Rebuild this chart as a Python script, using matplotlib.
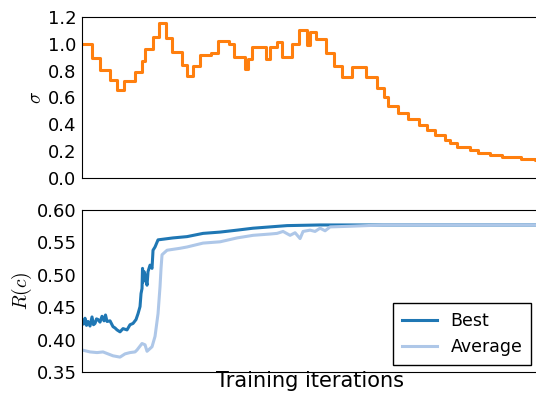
import matplotlib
matplotlib.use("Agg")
import matplotlib.pyplot as plt

plt.rcParams["mathtext.fontset"] = "cm"

# sigma schedule (step changes): iteration where the step starts, value
sigma_iter = [0, 10, 18, 28, 35, 42, 53, 60, 63, 71, 77, 84, 90, 100, 105, 111,
              118, 129, 136, 147, 152, 163, 166, 170, 184, 188, 195, 200, 210,
              217, 225, 228, 234, 244, 252, 260, 270, 284, 295, 302, 306, 316,
              326, 337, 345, 353, 363, 368, 375, 388, 396, 408, 420, 439, 453, 456]
sigma_val = [1.00, 0.895, 0.805, 0.728, 0.654, 0.72, 0.79, 0.87, 0.96, 1.053,
             1.157, 1.04, 0.937, 0.845, 0.758, 0.835, 0.92, 0.935, 1.023, 1.0,
             0.905, 0.81, 0.89, 0.98, 0.885, 0.975, 1.01, 0.905, 1.0, 1.10, 0.99,
             1.085, 1.035, 0.935, 0.835, 0.755, 0.825, 0.75, 0.67, 0.60, 0.54,
             0.487, 0.44, 0.395, 0.358, 0.32, 0.283, 0.258, 0.233, 0.209, 0.189,
             0.171, 0.159, 0.139, 0.135, 0.135]

# best reward
best_iter = [0, 1.5, 3, 4.5, 6, 8, 10, 11.5, 13, 14.5, 16, 18, 20, 22, 23.5, 25,
             28, 31, 33, 35, 38, 41, 45, 48, 51, 54, 56, 58, 59, 60, 60.5, 61,
             62, 63, 64, 65, 66, 68, 70, 71, 73, 76, 81, 91, 105, 121, 138, 155,
             171, 188, 205, 238, 456]
best_val = [0.430, 0.424, 0.433, 0.422, 0.428, 0.421, 0.435, 0.423, 0.425, 0.432,
            0.431, 0.427, 0.436, 0.429, 0.438, 0.428, 0.429, 0.420, 0.418, 0.415,
            0.412, 0.417, 0.415, 0.423, 0.425, 0.431, 0.440, 0.451, 0.471, 0.479,
            0.510, 0.489, 0.505, 0.500, 0.492, 0.484, 0.505, 0.515, 0.510, 0.538,
            0.543, 0.554, 0.555, 0.557, 0.559, 0.564, 0.566, 0.569, 0.572, 0.574,
            0.576, 0.577, 0.577]

# average reward
avg_iter = [0, 8, 15, 21, 26, 31, 38, 43, 48, 53, 55, 60, 63, 65, 70, 73, 76, 78,
            79, 80, 85, 98, 105, 121, 138, 155, 171, 188, 195, 201, 208, 213, 218,
            221, 228, 233, 238, 243, 248, 268, 301, 456]
avg_val = [0.384, 0.381, 0.380, 0.381, 0.378, 0.375, 0.373, 0.378, 0.380, 0.381,
           0.384, 0.394, 0.392, 0.382, 0.389, 0.405, 0.440, 0.482, 0.510, 0.531,
           0.538, 0.541, 0.543, 0.549, 0.551, 0.557, 0.561, 0.563, 0.564, 0.567,
           0.561, 0.565, 0.556, 0.567, 0.569, 0.567, 0.572, 0.568, 0.574, 0.575,
           0.577, 0.577]

fig = plt.figure(figsize=(5.36, 3.95), dpi=100)
ax1 = fig.add_axes([0.153, 0.5494, 0.851, 0.4076])
ax2 = fig.add_axes([0.153, 0.0582, 0.851, 0.410])

ax1.plot(sigma_iter, sigma_val, drawstyle="steps-post", color="#ff7f0e", lw=2.2)
ax1.set_xlim(0, 456)
ax1.set_ylim(0, 1.2)
ax1.set_yticks([0.0, 0.2, 0.4, 0.6, 0.8, 1.0, 1.2])
ax1.set_ylabel(r"$\sigma$", fontsize=14, labelpad=2)

ax2.plot(best_iter, best_val, color="#1f77b4", lw=2.2, label="Best")
ax2.plot(avg_iter, avg_val, color="#aec7e8", lw=2.2, label="Average")
ax2.set_xlim(0, 456)
ax2.set_ylim(0.35, 0.60)
ax2.set_yticks([0.35, 0.40, 0.45, 0.50, 0.55, 0.60])
ax2.set_ylabel(r"$R(c)$", fontsize=14, labelpad=2)
ax2.set_xlabel("Training iterations", fontsize=15, labelpad=-1)
leg = ax2.legend(loc="lower right", fontsize=12.5, fancybox=False, framealpha=1,
                 edgecolor="black", borderpad=0.5, handlelength=2,
                 borderaxespad=0.4)

for ax in (ax1, ax2):
    ax.set_xticks([])
    ax.tick_params(axis="y", length=0, labelsize=13, pad=4)

fig.savefig("out.png", dpi=100)
